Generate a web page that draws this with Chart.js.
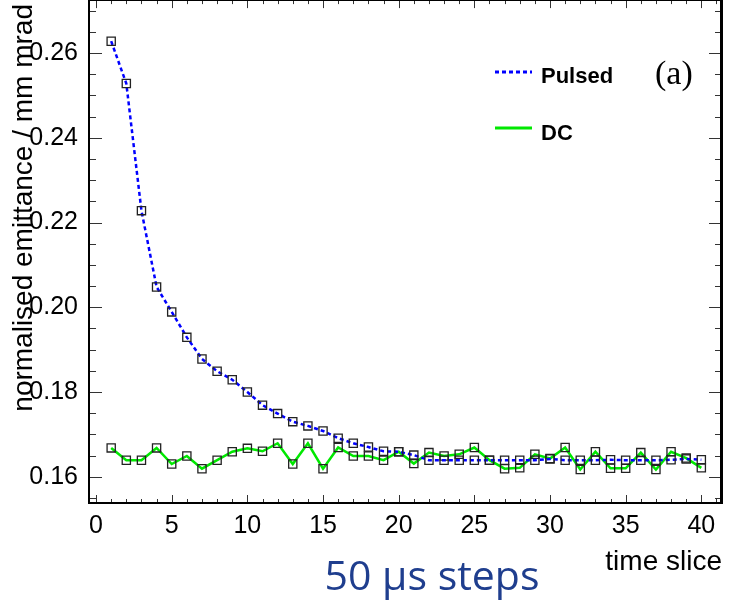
<!DOCTYPE html>
<html>
<head>
<meta charset="utf-8">
<script src="https://cdn.jsdelivr.net/npm/chart.js@4.4.1/dist/chart.umd.min.js"></script>
<style>
  html, body { margin: 0; padding: 0; background: #ffffff; }
  #wrap { width: 731px; height: 605px; position: relative; overflow: hidden; }
  #c { position: absolute; left: 0; top: -7px; }
</style>
</head>
<body>
<div id="wrap"><canvas id="c" width="731" height="612"></canvas></div>
<script>
// Time slice index (1..40)
const timeSlices = [1,2,3,4,5,6,7,8,9,10,11,12,13,14,15,16,17,18,19,20,
                    21,22,23,24,25,26,27,28,29,30,31,32,33,34,35,36,37,38,39,40];

// Normalised emittance, mm mrad
const pulsed = [0.2628,0.2528,0.2228,0.2048,0.1989,0.1929,0.1878,0.1849,0.1829,0.1800,
                0.1769,0.1749,0.1730,0.1720,0.1708,0.1691,0.1679,0.1670,0.1660,0.1659,
                0.1651,0.1639,0.1639,0.1639,0.1639,0.1639,0.1639,0.1639,0.1639,0.1642,
                0.1639,0.1639,0.1639,0.1640,0.1639,0.1639,0.1639,0.1640,0.1642,0.1640];

const dc = [0.1668,0.1639,0.1639,0.1668,0.1630,0.1649,0.1619,0.1639,0.1659,0.1667,
            0.1660,0.1679,0.1630,0.1679,0.1619,0.1669,0.1649,0.1649,0.1639,0.1659,
            0.1631,0.1657,0.1649,0.1653,0.1669,0.1639,0.1619,0.1621,0.1653,0.1643,
            0.1669,0.1617,0.1659,0.1620,0.1620,0.1657,0.1617,0.1659,0.1644,0.1621];

// Axis tick labels
const xTickValues = [0, 5, 10, 15, 20, 25, 30, 35, 40];
const yTickValues = [0.16, 0.18, 0.20, 0.22, 0.24, 0.26];

const seriesNames = ['Pulsed', 'DC'];
const xTitle = 'time slice';
const yTitle = 'normalised emittance / mm mrad';
const panelTag = '(a)';
const stepNote = '50 \u03bcs steps';

const SANS = '"Liberation Sans", Arial, sans-serif';
const SERIF = '"Liberation Serif", "Times New Roman", serif';
const BLUE = '#0000ff';
const GREEN = '#00e800';

// The canvas sits 7px above the visible page so the frame can touch the top edge
const SHIFT = 7;

// Frame, inward tick marks, titles, legend and annotations
const decorations = {
  id: 'decorations',
  afterDraw(chart) {
    const ctx = chart.ctx;
    const a = chart.chartArea;
    const xs = chart.scales.x, ys = chart.scales.y;
    ctx.save();

    // tick marks pointing into the frame, on all four sides
    ctx.strokeStyle = '#333';
    ctx.lineWidth = 1;
    ctx.beginPath();
    for (let v = 0; v <= 41; v++) {
      const px = Math.round(xs.getPixelForValue(v)) + 0.5;
      const len = (v % 5 === 0) ? 8 : 4;
      ctx.moveTo(px, a.bottom); ctx.lineTo(px, a.bottom - len);
      ctx.moveTo(px, a.top); ctx.lineTo(px, a.top + len);
    }
    for (let k = 31; k <= 54; k++) {
      const v = k * 0.005;
      const py = Math.round(ys.getPixelForValue(v)) + 0.5;
      if (py < a.top || py > a.bottom) continue;
      const len = (k % 4 === 0) ? 12 : 6;
      ctx.moveTo(a.left, py); ctx.lineTo(a.left + len, py);
      ctx.moveTo(a.right, py); ctx.lineTo(a.right - len, py);
    }
    ctx.stroke();

    // frame
    ctx.strokeStyle = '#000';
    ctx.lineWidth = 2;
    ctx.beginPath();
    ctx.moveTo(a.left - 1, a.top); ctx.lineTo(a.right, a.top);
    ctx.moveTo(a.left - 1, a.top); ctx.lineTo(a.left - 1, a.bottom + 1);
    ctx.moveTo(a.left - 2, a.bottom); ctx.lineTo(a.right + 1, a.bottom);
    ctx.stroke();
    ctx.lineWidth = 3;
    ctx.beginPath();
    ctx.moveTo(a.right + 0.5, a.top - 1); ctx.lineTo(a.right + 0.5, a.bottom + 1);
    ctx.stroke();

    // axis titles
    ctx.fillStyle = '#000';
    ctx.font = '28px ' + SANS;
    ctx.textBaseline = 'alphabetic';
    ctx.textAlign = 'right';
    ctx.fillText(xTitle, 722, 570 + SHIFT);
    ctx.save();
    ctx.translate(32, 4 + SHIFT);
    ctx.rotate(-Math.PI / 2);
    ctx.textAlign = 'right';
    ctx.fillText(yTitle, 0, 0);
    ctx.restore();

    // legend
    const ds = chart.data.datasets;
    const rows = [{ y: 72, text: 83 }, { y: 128, text: 140 }];
    ds.forEach((d, i) => {
      ctx.save();
      ctx.strokeStyle = d.borderColor;
      ctx.lineWidth = 3;
      ctx.setLineDash(d.borderDash || []);
      ctx.beginPath();
      ctx.moveTo(495, rows[i].y + SHIFT); ctx.lineTo(532, rows[i].y + SHIFT);
      ctx.stroke();
      ctx.restore();
      ctx.fillStyle = '#000';
      ctx.font = 'bold 22px ' + SANS;
      ctx.textAlign = 'left';
      ctx.fillText(d.label, 541, rows[i].text + SHIFT);
    });

    // panel tag
    ctx.font = '34px ' + SERIF;
    ctx.textAlign = 'left';
    ctx.fillText(panelTag, 655, 84 + SHIFT);

    // step note
    ctx.fillStyle = '#1f3e8e';
    ctx.font = '41px "Open Sans", "Noto Sans", sans-serif';
    ctx.textAlign = 'center';
    ctx.fillText(stepNote, 432, 590 + SHIFT);

    ctx.restore();
  }
};

const toPoints = (vals) => vals.map((v, i) => ({ x: timeSlices[i], y: v }));

// keep the plot frame exactly where the layout puts it
const noEdgePadding = (s) => {
  s.paddingTop = 0; s.paddingBottom = 0; s.paddingLeft = 0; s.paddingRight = 0;
};

const markerStyle = {
  pointStyle: 'rect',
  pointRadius: 5.8,
  hoverRadius: 5.8,
  pointBorderColor: '#222',
  pointBorderWidth: 1.3,
  hoverBorderWidth: 1.2,
  pointBackgroundColor: 'rgba(0,0,0,0)'
};

new Chart(document.getElementById('c'), {
  type: 'line',
  data: {
    datasets: [
      Object.assign({
        label: seriesNames[0],
        data: toPoints(pulsed),
        borderColor: BLUE,
        borderWidth: 2.5,
        borderDash: [4, 3],
        tension: 0
      }, markerStyle),
      Object.assign({
        label: seriesNames[1],
        data: toPoints(dc),
        borderColor: GREEN,
        borderWidth: 2.5,
        tension: 0
      }, markerStyle)
    ]
  },
  options: {
    responsive: false,
    animation: false,
    devicePixelRatio: 1,
    events: [],
    layout: { padding: { top: 0, right: 10, left: 0, bottom: 0 } },
    plugins: { legend: { display: false }, tooltip: { enabled: false } },
    scales: {
      x: {
        type: 'linear',
        min: -0.4,
        max: 41.3,
        grid: { display: false, drawTicks: false },
        border: { display: false },
        afterBuildTicks: (s) => { s.ticks = xTickValues.map(v => ({ value: v })); },
        afterFit: (s) => { s.height = 102; noEdgePadding(s); },
        ticks: {
          autoSkip: false,
          maxRotation: 0,
          padding: 8,
          color: '#000',
          font: { family: SANS, size: 25 },
          callback: (v) => String(v)
        }
      },
      y: {
        type: 'linear',
        min: 0.1538,
        max: 0.2725,
        grid: { display: false, drawTicks: false },
        border: { display: false },
        afterBuildTicks: (s) => { s.ticks = yTickValues.map(v => ({ value: v })); },
        afterFit: (s) => { s.width = 90; noEdgePadding(s); },
        ticks: {
          autoSkip: false,
          padding: 12,
          color: '#000',
          font: { family: SANS, size: 25 },
          callback: (v) => Number(v).toFixed(2)
        }
      }
    }
  },
  plugins: [decorations]
});
</script>
</body>
</html>
